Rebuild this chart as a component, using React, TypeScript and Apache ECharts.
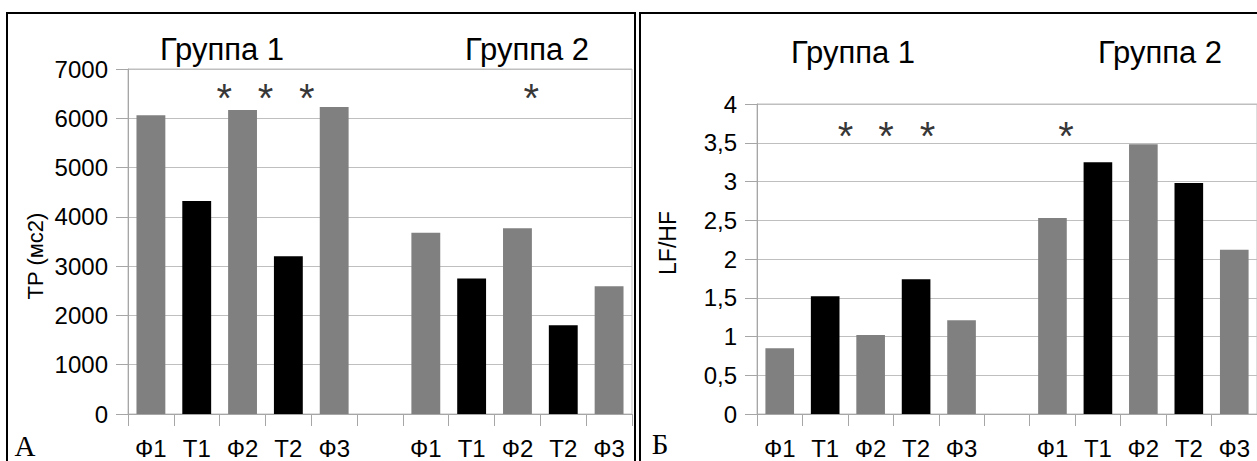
import React, { useEffect, useRef } from "react";
import * as echarts from "echarts";

// ---- Data ----
const categories = ["Ф1", "Т1", "Ф2", "Т2", "Ф3", "", "Ф1", "Т1", "Ф2", "Т2", "Ф3"];
const tpValues = [6060, 4320, 6170, 3200, 6230, null, 3680, 2750, 3770, 1800, 2590];
const lfhfValues = [0.85, 1.52, 1.02, 1.74, 1.21, null, 2.53, 3.25, 3.48, 2.98, 2.12];
const tpAxis = { min: 0, max: 7000, interval: 1000 };
const lfhfAxis = { min: 0, max: 4, interval: 0.5 };
// star markers: [position in category units, value]
const tpStars = [[2.1, 6600], [3.0, 6600], [3.9, 6600], [8.8, 6600]];
const lfhfStars = [[1.95, 3.7], [2.84, 3.7], [3.75, 3.7], [6.8, 3.7]];
const groupTitles = ["Группа 1", "Группа 2"];
const axisNames = ["TP (мс2)", "LF/HF"];
const panelLetters = ["А", "Б"];

const FONT = '"Liberation Sans", Arial, sans-serif';
const SERIF = '"Liberation Serif", "Times New Roman", serif';
const GRID_COLOR = "#bfbfbf";
const AXIS_COLOR = "#a6a6a6";

function barColor(cat: string) {
  return cat.startsWith("Т") ? "#000000" : "#808080";
}

function barData(values: (number | null)[]) {
  return values.map((v, i) => ({ value: v, itemStyle: { color: barColor(categories[i]) } }));
}

function catAxis(gridIndex: number) {
  return {
    type: "category",
    gridIndex,
    data: categories,
    axisLine: { show: true, lineStyle: { color: AXIS_COLOR, width: 1 } },
    axisTick: { show: true, interval: 0, length: 12, alignWithLabel: false, lineStyle: { color: AXIS_COLOR } },
    axisLabel: { interval: 0, margin: 22, fontSize: 24, color: "#000", fontFamily: FONT },
    splitLine: { show: false },
  };
}

function valAxis(gridIndex: number, cfg: any, formatter: (v: number) => string) {
  return {
    type: "value",
    gridIndex,
    min: cfg.min,
    max: cfg.max,
    interval: cfg.interval,
    axisLine: { show: true, lineStyle: { color: AXIS_COLOR, width: 1 } },
    axisTick: { show: true, length: 12, lineStyle: { color: AXIS_COLOR } },
    axisLabel: { margin: 20, fontSize: 24, color: "#000", fontFamily: FONT, formatter },
    splitLine: { show: true, lineStyle: { color: GRID_COLOR, width: 1 } },
  };
}

function starSeries(xAxisIndex: number, yAxisIndex: number, data: number[][]) {
  return {
    type: "scatter",
    xAxisIndex,
    yAxisIndex,
    data,
    symbolSize: 0,
    silent: true,
    label: {
      show: true,
      position: "inside",
      formatter: "*",
      fontSize: 40,
      fontFamily: FONT,
      color: "#000",
      offset: [0, 9],
    },
  };
}

function textEl(text: string, x: number, y: number, size: number, family: string, rotation = 0) {
  return {
    type: "text",
    x,
    y,
    rotation,
    style: {
      text,
      fontSize: size,
      fontFamily: family,
      fill: "#000",
      align: "center",
      verticalAlign: "middle",
    },
  };
}

export default function App() {
  const ref = useRef<HTMLDivElement>(null);

  useEffect(() => {
    if (!ref.current) return;
    const chart = echarts.init(ref.current, null, { renderer: "svg" });
    const option: any = {
      animation: false,
      backgroundColor: "#ffffff",
      grid: [
        { left: 128, top: 69, width: 504, height: 345, show: true, borderColor: GRID_COLOR, borderWidth: 1, backgroundColor: "transparent" },
        { left: 757, top: 104, width: 503, height: 310, show: true, borderColor: GRID_COLOR, borderWidth: 1, backgroundColor: "transparent" },
      ],
      xAxis: [
        catAxis(0),
        catAxis(1),
        { type: "value", gridIndex: 0, min: 0, max: categories.length, show: false },
        { type: "value", gridIndex: 1, min: 0, max: categories.length, show: false },
      ],
      yAxis: [
        valAxis(0, tpAxis, (v: number) => String(v)),
        valAxis(1, lfhfAxis, (v: number) => String(v).replace(".", ",")),
      ],
      series: [
        { type: "bar", xAxisIndex: 0, yAxisIndex: 0, data: barData(tpValues), barWidth: "63%" },
        { type: "bar", xAxisIndex: 1, yAxisIndex: 1, data: barData(lfhfValues), barWidth: "63%" },
        starSeries(2, 0, tpStars),
        starSeries(3, 1, lfhfStars),
      ],
      graphic: [
        { type: "rect", shape: { x: 7, y: 13, width: 628, height: 500 }, style: { fill: "none", stroke: "#000", lineWidth: 2 }, z: 100 },
        { type: "rect", shape: { x: 640, y: 13, width: 700, height: 500 }, style: { fill: "none", stroke: "#000", lineWidth: 2 }, z: 100 },
        textEl(groupTitles[0], 222, 49, 31, FONT),
        textEl(groupTitles[1], 527, 49, 31, FONT),
        textEl(groupTitles[0], 853, 52, 31, FONT),
        textEl(groupTitles[1], 1160, 52, 31, FONT),
        textEl(axisNames[0], 35, 256, 22, FONT, Math.PI / 2),
        textEl(axisNames[1], 668, 243, 23, FONT, Math.PI / 2),
        textEl(panelLetters[0], 25, 446, 29, SERIF),
        textEl(panelLetters[1], 660, 444, 29, SERIF),
      ],
    };
    chart.setOption(option);
    return () => chart.dispose();
  }, []);

  return (
    <div
      ref={ref}
      style={{ position: "absolute", left: 0, top: 0, width: 1257, height: 461, background: "#fff" }}
    />
  );
}
